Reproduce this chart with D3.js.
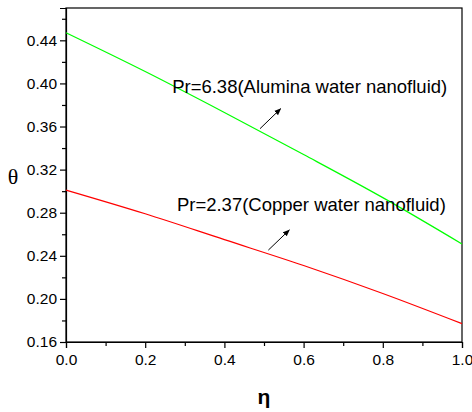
<!DOCTYPE html>
<html>
<head>
<meta charset="utf-8">
<script src="https://cdn.jsdelivr.net/npm/d3@7"></script>
<style>
  body { margin: 0; background: #fff; }
  text { font-family: Arial, "Liberation Sans", sans-serif; fill: #000; }
</style>
</head>
<body>
<div id="chart"></div>
<script>
var etaValues = [0.0, 0.2, 0.4, 0.6, 0.8, 1.0];
var aluminaTheta = [0.447, 0.411, 0.373, 0.334, 0.294, 0.251];
var copperTheta = [0.301, 0.279, 0.255, 0.231, 0.205, 0.177];
var xTickValues = [0.0, 0.2, 0.4, 0.6, 0.8, 1.0];
var yTickValues = [0.16, 0.20, 0.24, 0.28, 0.32, 0.36, 0.40, 0.44];
var notes = [
  {label: "Pr=6.38(Alumina water nanofluid)", x: 0.268, y: 0.3913, from: [0.49, 0.358], to: [0.542, 0.3765]},
  {label: "Pr=2.37(Copper water nanofluid)", x: 0.28, y: 0.2816, from: [0.511, 0.2453], to: [0.564, 0.264]}
];

var margin = {top: 8, right: 10, bottom: 70, left: 66},
    width = 472 - margin.left - margin.right,
    height = 412 - margin.top - margin.bottom;

var svg = d3.select("#chart")
    .append("svg")
    .attr("width", 472)
    .attr("height", 412);

var g = svg.append("g")
    .attr("transform", "translate(" + margin.left + "," + margin.top + ")");

var x = d3.scaleLinear().domain([0, 1]).range([0, width]);
var y = d3.scaleLinear().domain([0.16, 0.47]).range([height, 0]);

// minor ticks
g.append("g")
    .attr("transform", "translate(0," + height + ")")
    .call(d3.axisBottom(x).tickValues(d3.range(0.1, 1, 0.2)).tickSize(4).tickFormat(""))
    .call(a => a.select(".domain").remove());
g.append("g")
    .call(d3.axisLeft(y).tickValues(d3.range(0.18, 0.47, 0.04)).tickSize(4).tickFormat(""))
    .call(a => a.select(".domain").remove());

// major ticks
var xAxis = g.append("g")
    .attr("transform", "translate(0," + height + ")")
    .call(d3.axisBottom(x).tickValues(xTickValues).tickSize(6).tickPadding(6).tickFormat(d3.format(".1f")));
xAxis.selectAll("text").style("font-size", "15.5px");

var yAxis = g.append("g")
    .call(d3.axisLeft(y).tickValues(yTickValues).tickSize(6).tickPadding(3).tickFormat(d3.format(".2f")));
yAxis.selectAll("text").style("font-size", "15.5px");

g.selectAll(".tick line").attr("stroke", "#000").attr("stroke-width", 1.2);
g.selectAll(".domain").attr("stroke", "#000").attr("stroke-width", 1.2);

// frame
g.append("rect")
    .attr("width", width)
    .attr("height", height)
    .attr("fill", "none")
    .attr("stroke", "#000")
    .attr("stroke-width", 1.2);

var line = d3.line()
    .x(function(d) { return x(d[0]); })
    .y(function(d) { return y(d[1]); })
    .curve(d3.curveMonotoneX);

g.append("path")
    .datum(d3.zip(etaValues, aluminaTheta))
    .attr("fill", "none")
    .attr("stroke", "#00ff00")
    .attr("stroke-width", 1.2)
    .attr("d", line);

g.append("path")
    .datum(d3.zip(etaValues, copperTheta))
    .attr("fill", "none")
    .attr("stroke", "#ff0000")
    .attr("stroke-width", 1.2)
    .attr("d", line);

// arrow head
svg.append("defs").append("marker")
    .attr("id", "head")
    .attr("viewBox", "0 0 10 10")
    .attr("refX", 9).attr("refY", 5)
    .attr("markerWidth", 7).attr("markerHeight", 7)
    .attr("markerUnits", "userSpaceOnUse")
    .attr("orient", "auto")
    .append("path")
    .attr("d", "M0,1 L10,5 L0,9 Z")
    .attr("fill", "#000");

notes.forEach(function(n) {
  g.append("text")
      .attr("x", x(n.x))
      .attr("y", y(n.y))
      .style("font-size", "18.5px")
      .text(n.label);
  g.append("line")
      .attr("x1", x(n.from[0])).attr("y1", y(n.from[1]))
      .attr("x2", x(n.to[0])).attr("y2", y(n.to[1]))
      .attr("stroke", "#000")
      .attr("stroke-width", 1)
      .attr("marker-end", "url(#head)");
});

// axis titles
svg.append("text")
    .attr("x", 13)
    .attr("y", 184)
    .attr("text-anchor", "middle")
    .style("font-family", "'Liberation Serif', 'Times New Roman', serif")
    .style("font-size", "22px")
    .text("θ");

svg.append("text")
    .attr("x", 264)
    .attr("y", 404)
    .attr("text-anchor", "middle")
    .style("font-size", "21px")
    .style("font-weight", "bold")
    .text("η");
</script>
</body>
</html>
